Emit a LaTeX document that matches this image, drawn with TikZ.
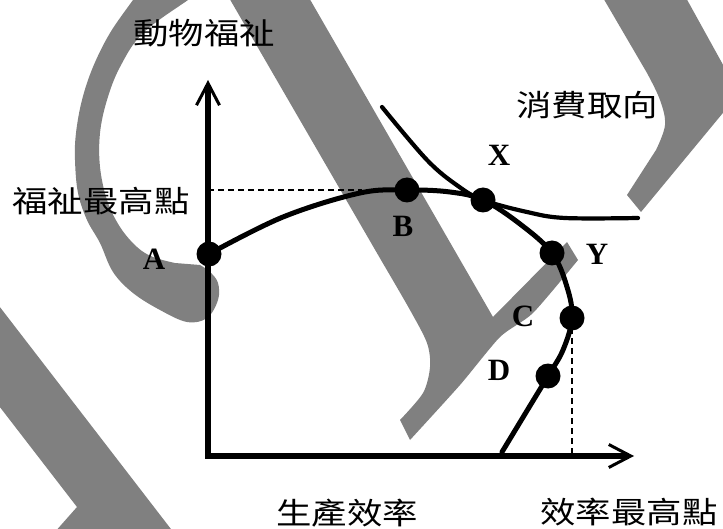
\documentclass[tikz,border=0pt]{standalone}
\usepackage{fontspec}
\usepackage{graphicx}
\setmainfont{Liberation Serif}
\newfontfamily\cjk{Noto Sans CJK TC}
\usetikzlibrary{arrows.meta}
\newcommand{\cjtext}[1]{\scalebox{1.18}[1]{\cjk #1}}
\begin{document}
\begin{tikzpicture}[x=1pt,y=-1pt,
  wm/.style={fill=black!50},
  axisline/.style={line width=5.5pt, line join=miter},
  tipbarb/.style={},
  mainline/.style={line width=5pt, line cap=round},
  prefline/.style={line width=4.2pt, line cap=round},
  dot/.style={circle, fill=black, minimum size=25pt, inner sep=0pt},
  guide/.style={line width=1.5pt, dash pattern=on 6pt off 4pt},
  ptlabel/.style={font=\fontsize{31}{31}\selectfont\bfseries, inner sep=0pt},
  cjlabel/.style={font=\fontsize{30}{30}\selectfont, inner sep=0pt}]
\useasboundingbox (0,0) rectangle (723,529);
\fill[white] (0,0) rectangle (723,529);
% watermark shapes
\begin{scope}
\clip (0,0) rectangle (723,529);
\fill[wm] plot[smooth, tension=0.6] coordinates {(136,-4) (133,0) (110,33) (93,67) (82,100) (76,133) (75,160) (78,193) (87,220) (100,243) (113,272) (133,293) (160,310) (187,322) (207,318) (218,300) (218,283) (210,272) (200,265)}
  -- plot[smooth, tension=0.6] coordinates {(175,263) (153,257) (137,247) (120,227) (107,200) (100,167) (100,133) (107,100) (120,67) (143,33) (188,0) (194,-4)} -- cycle;
\fill[wm] (228,-4) -- plot[smooth, tension=0.5] coordinates {(381,260) (410,310) (427,343) (430,367) (423,393) (400,420)} -- (410,440)
  -- plot[smooth, tension=0.4] coordinates {(410,440) (460,385) (500,337) (533,313) (578,260)} -- (567,242) -- (493,317) -- (308,-4) -- cycle;
\fill[wm] (602,-4) -- (685,-4) -- (727,72) -- (727,108) -- (641,212) -- (627,195)
  -- plot[smooth, tension=0.6] coordinates {(656,150) (665,125) (660,100) (647,73)} -- cycle;
\fill[wm] (-4,302) -- (174,533) -- (54,533) -- (77,507) -- (-4,402) -- cycle;
\end{scope}
% axes
\coordinate (O) at (208,456);
\coordinate (Ytip) at (208,80);
\coordinate (Xtip) at (634,456);
\draw[axisline, {Straight Barb[length=22pt,width=23pt,line width=3pt]}-{Straight Barb[length=22pt,width=23pt,line width=3pt]}] (Ytip) -- (O) -- (Xtip);
% points
\coordinate (pA) at (209,254);
\coordinate (pB) at (407,190);
\coordinate (pX) at (483,200);
\coordinate (pY) at (552,253);
\coordinate (pC) at (572,318);
\coordinate (pD) at (548,376);
\coordinate (pE) at (502,452);
\coordinate (hEnd) at (362,190);
\coordinate (hStart) at (208,190);
\coordinate (vEnd) at (572,456);
% dashed guides
\draw[guide] (hStart) -- (hEnd);
\draw[guide] (pC) -- (vEnd);
% main curve
\draw[mainline] plot[smooth, tension=0.6] coordinates {(pA) (283,217) (360,193) (pB) (450,192) (pX) (520,224) (pY) (567,287) (pC) (563,350) (pD) (525,414) (pE)};
% preference curve
\coordinate (qS) at (382,107);
\coordinate (qE) at (638,218);
\draw[prefline] plot[smooth, tension=0.6] coordinates {(qS) (427,160) (458,186) (pX) (527,212) (565,218) (qE)};
% dots
\foreach \p in {pA,pB,pX,pY,pC,pD} \node[dot] (d\p) at (\p) {};
% letters
\node[ptlabel] (lA) at (154,259) {A};
\node[ptlabel] (lB) at (403,226) {B};
\node[ptlabel] (lX) at (499,155) {X};
\node[ptlabel] (lY) at (597,254) {Y};
\node[ptlabel] (lC) at (523,316) {C};
\node[ptlabel] (lD) at (499,370) {D};
% CJK labels
\node[cjlabel] (t1) at (204,33) {\cjtext{動物福祉}};
\node[cjlabel] (t2) at (101,201) {\cjtext{福祉最高點}};
\node[cjlabel] (t3) at (587,105) {\cjtext{消費取向}};
\node[cjlabel] (t4) at (347,513) {\cjtext{生產效率}};
\node[cjlabel] (t5) at (629,512) {\cjtext{效率最高點}};
\end{tikzpicture}
\end{document}
